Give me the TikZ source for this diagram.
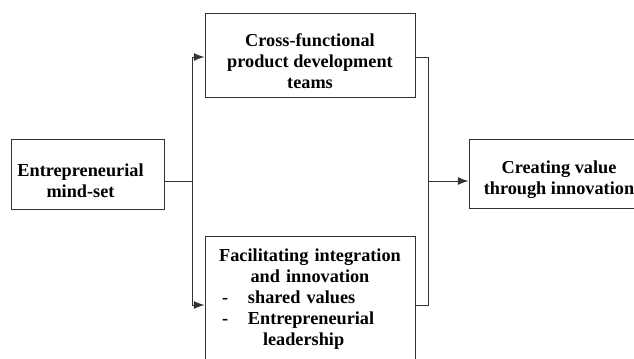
\documentclass[tikz,border=0pt]{standalone}
\usepackage{fontspec}
\setmainfont{Liberation Serif}
\usepackage{tikz}
\usetikzlibrary{arrows}
\usetikzlibrary{arrows.meta}
\usetikzlibrary{calc}

\newcommand{\boxw}{157.5pt}
\newcommand{\lowstrut}{\rule{0pt}{19pt}}
\newcommand{\padr}{\hspace*{10.5pt}}

\tikzset{
  blockbox/.style={draw=black!80, line width=0.75pt, fill=white, align=center,
    font=\fontsize{13.7}{15.75}\selectfont\bfseries},
  link/.style={black!80, line width=0.75pt},
  flow/.style={link, -{Latex[length=8pt,width=6pt]}}
}

\begin{document}
\begin{tikzpicture}[x=0.75pt,y=-0.75pt]
\useasboundingbox (0,0) rectangle (634,358);
\clip (0,0) rectangle (634,358);
\fill[white] (0,0) rectangle (634,358);
%%\draw[step=10,color=gray!50,dotted] (0,0) grid (634,358);
\node[blockbox, minimum width=114.75pt, minimum height=52.5pt] (mind) at (87.5,174) {\lowstrut Entrepreneurial\padr\\mind-set\padr};
\node[blockbox, minimum width=157.5pt, minimum height=63pt] (cross) at (310,55) {\lowstrut Cross-functional\\product development\\teams};
\node[blockbox, anchor=north, text width=\boxw, inner xsep=0pt, inner ysep=9pt] (facil) at (310,236)
  {Facilitating integration\\and innovation\\
   \makebox[\boxw][l]{\hspace*{12.75pt}\makebox[19.5pt][l]{-}shared values}\\
   \makebox[\boxw][l]{\hspace*{12.75pt}\makebox[19.5pt][l]{-}Entrepreneurial}\\
   \makebox[\boxw][l]{\hspace*{43.5pt}leadership}\\[30pt]};
\node[blockbox, minimum width=135pt, minimum height=51.75pt] (value) at (559,173.5) {\lowstrut Creating value\\through innovation};
\coordinate (jl) at (192,181);
\coordinate (jr) at (428,181);
\coordinate (fin) at ($(facil.north west)+(0,69)$);
\coordinate (fout) at ($(facil.north east)+(0,69)$);
   \draw[link] (mind.east |- jl) -- (jl);
   \draw[flow] (jl) |- ([yshift=-1.5pt]cross.west);
   \draw[flow] (jl) |- (fin);
   \draw[link] ([yshift=-1.5pt]cross.east) -| (jr);
   \draw[link] (fout) -| (jr);
   \draw[flow] (jr) -- (value.west |- jr);
\end{tikzpicture}
\end{document}
